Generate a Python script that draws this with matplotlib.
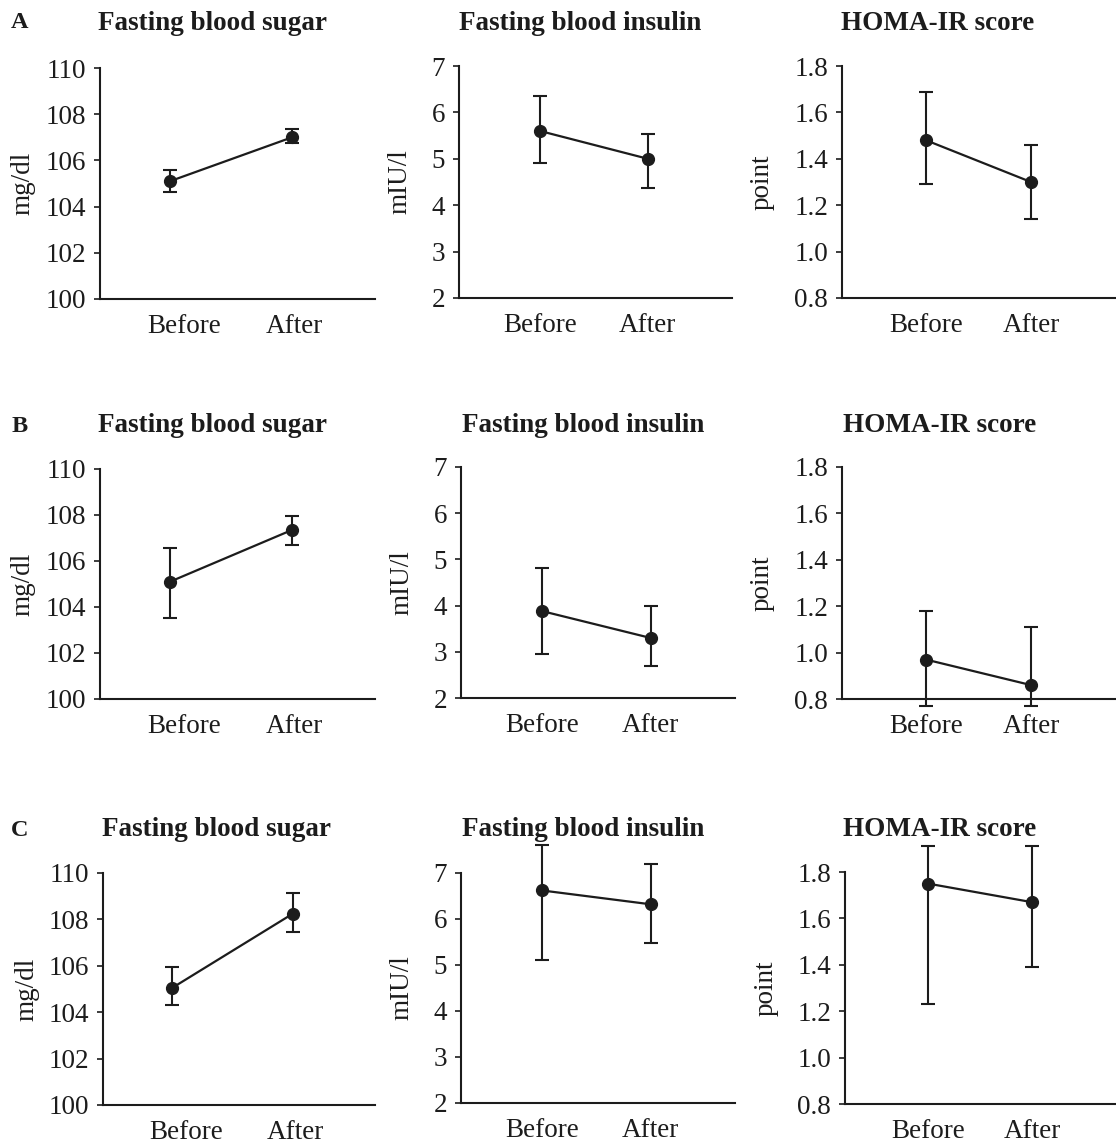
import numpy as np
import matplotlib
matplotlib.use('Agg')
import matplotlib.pyplot as plt

plt.rcParams['font.family'] = ['Liberation Serif', 'DejaVu Serif']

# ============ data ============
groups = ['A', 'B', 'C']
measures = ['Fasting blood sugar', 'Fasting blood insulin', 'HOMA-IR score']
units = ['mg/dl', 'mIU/l', 'point']
timepoints = ['Before', 'After']

# means per group: [sugar, insulin, homa] x [before, after]
mean_A = [[105.1, 107.0], [5.6, 5.0], [1.48, 1.30]]
mean_B = [[105.1, 107.35], [3.88, 3.30], [0.97, 0.86]]
mean_C = [[105.05, 108.25], [6.62, 6.32], [1.75, 1.67]]

# error bar lower / upper ends
low_A = [[104.65, 106.75], [4.90, 4.37], [1.29, 1.14]]
high_A = [[105.6, 107.35], [6.35, 5.53], [1.69, 1.46]]
low_B = [[103.5, 106.7], [2.95, 2.70], [0.77, 0.77]]
high_B = [[106.55, 107.95], [4.82, 4.00], [1.18, 1.11]]
low_C = [[104.3, 107.45], [5.10, 5.48], [1.23, 1.39]]
high_C = [[105.95, 109.15], [7.60, 7.20], [1.91, 1.91]]

y_ticks = [[100, 102, 104, 106, 108, 110],
           [2, 3, 4, 5, 6, 7],
           [0.8, 1.0, 1.2, 1.4, 1.6, 1.8]]
y_ticklabels = [[str(t) for t in y_ticks[0]],
                [str(t) for t in y_ticks[1]],
                ['%.1f' % t for t in y_ticks[2]]]
# ==============================

W, H = 1116, 1144
INK = '#1c1c1c'

# axes boxes in pixels: (left, top, right, bottom)
boxes = [
    [(100, 68, 375, 299), (459, 66, 732, 298), (842, 66, 1116, 298)],
    [(100, 469, 375, 699), (461, 467, 735, 698), (842, 467, 1116, 699)],
    [(103, 873, 375, 1105), (461, 873, 735, 1103), (845, 872, 1116, 1104)],
]
xlims = [(-0.574, 1.68), (-0.75, 1.78), (-0.80, 1.81)]
xtick_pos = [[0.114, 1.016], [0.0, 1.0], [0.0, 1.0]]
ylabel_x = [-0.235, -0.17, -0.245]

row_title_y = [23, 426, 830]
title_x = [[213, 580, 938], [212, 583, 940], [216, 583, 940]]

means = [mean_A, mean_B, mean_C]
lows = [low_A, low_B, low_C]
highs = [high_A, high_B, high_C]

fig = plt.figure(figsize=(W / 100, H / 100), dpi=100)
fig.patch.set_facecolor('white')

for r in range(3):
    fig.text(20 / W, 1 - row_title_y[r] / H, groups[r], fontsize=17.5,
             fontweight='bold', ha='center', va='center', color=INK)
    for c in range(3):
        l, t, rr, b = boxes[r][c]
        ax = fig.add_axes([l / W, 1 - b / H, (rr - l) / W, (b - t) / H])
        x = np.arange(len(timepoints))
        m = np.array(means[r][c])
        lo = np.array(lows[r][c])
        hi = np.array(highs[r][c])
        ax.errorbar(x, m, yerr=[m - lo, hi - m], fmt='-o', color=INK,
                    markersize=8.5, linewidth=1.6, elinewidth=1.5,
                    capsize=5, capthick=1.5, clip_on=False, zorder=3)

        ax.set_xlim(*xlims[c])
        ax.set_ylim(y_ticks[c][0], y_ticks[c][-1])
        ax.set_yticks(y_ticks[c])
        ax.set_yticklabels(y_ticklabels[c])
        ax.set_xticks(xtick_pos[c])
        ax.set_xticklabels(timepoints)

        for side in ['top', 'right']:
            ax.spines[side].set_visible(False)
        for side in ['left', 'bottom']:
            ax.spines[side].set_linewidth(1.5)
            ax.spines[side].set_color(INK)
        ax.tick_params(axis='y', length=4, width=1.2, pad=6,
                       labelsize=19.5, colors=INK)
        ax.tick_params(axis='x', length=0, pad=11, labelsize=19.5,
                       colors=INK)

        ax.set_ylabel(units[c], fontsize=19.5, color=INK)
        ax.yaxis.set_label_coords(ylabel_x[c], 0.5)
        ax.patch.set_alpha(0)

        fig.text(title_x[r][c] / W, 1 - row_title_y[r] / H, measures[c],
                 fontsize=19.5, fontweight='bold', ha='center', va='center',
                 color=INK)

fig.savefig('out.png', dpi=100, facecolor='white')
